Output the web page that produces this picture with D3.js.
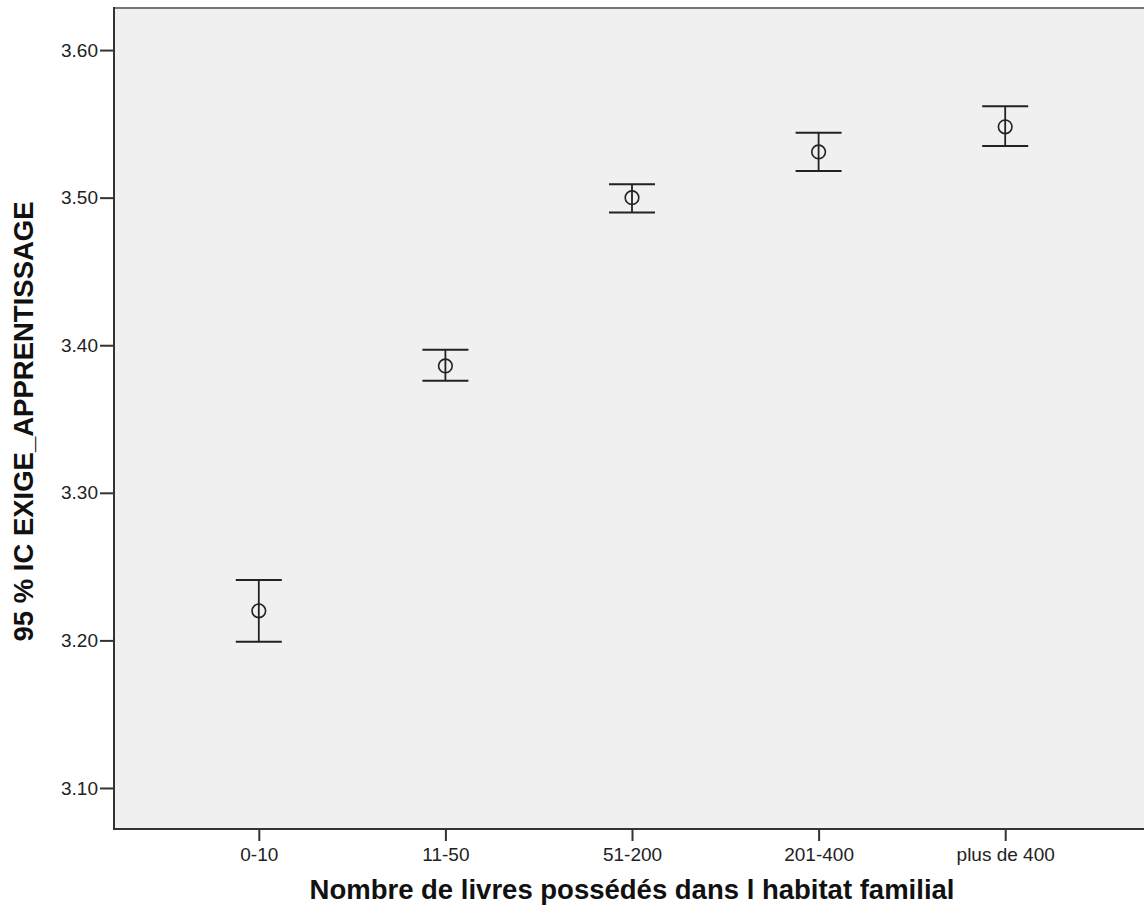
<!DOCTYPE html>
<html>
<head>
<meta charset="utf-8">
<script src="https://cdn.jsdelivr.net/npm/d3@7/dist/d3.min.js"></script>
<style>
  html, body { margin: 0; padding: 0; background: #fff; }
  svg { display: block; }
  text { font-family: "Liberation Sans", Arial, sans-serif; fill: #111; }
</style>
</head>
<body>
<svg id="chart" width="1144" height="915"></svg>
<script>
// Book-count groups and the 95% confidence interval of EXIGE_APPRENTISSAGE
const categories = ["0-10", "11-50", "51-200", "201-400", "plus de 400"];
const means      = [3.220, 3.386, 3.500, 3.531, 3.548];
const lowerCI    = [3.199, 3.376, 3.490, 3.518, 3.535];
const upperCI    = [3.241, 3.397, 3.509, 3.544, 3.562];
const yTicks     = [3.10, 3.20, 3.30, 3.40, 3.50, 3.60];

const yTitle = "95 % IC EXIGE_APPRENTISSAGE";
const xTitle = "Nombre de livres possédés dans l habitat familial";

const svg = d3.select("#chart");
const plot = { left: 114, top: 8, right: 1150, bottom: 829 };

const x = d3.scalePoint()
  .domain(categories)
  .range([plot.left, plot.right])
  .padding(0.776);

const y = d3.scaleLinear()
  .domain([3.0722, 3.6285])
  .range([plot.bottom, plot.top]);

// plot background
svg.append("rect")
  .attr("x", plot.left)
  .attr("y", plot.top)
  .attr("width", plot.right - plot.left)
  .attr("height", plot.bottom - plot.top)
  .attr("fill", "#f0f0f0");

// frame: top edge
svg.append("line")
  .attr("x1", plot.left).attr("x2", plot.right)
  .attr("y1", plot.top).attr("y2", plot.top)
  .attr("stroke", "#777").attr("stroke-width", 2);

// y axis
const yAxis = svg.append("g")
  .attr("transform", `translate(${plot.left},0)`)
  .call(d3.axisLeft(y).tickValues(yTicks).tickFormat(d3.format(".2f")).tickSize(14).tickPadding(2));
yAxis.select(".domain").remove();
yAxis.append("line")
  .attr("x1", 0).attr("x2", 0)
  .attr("y1", plot.top - 1).attr("y2", plot.bottom + 1)
  .attr("stroke", "#333").attr("stroke-width", 2);

// x axis
const xAxis = svg.append("g")
  .attr("transform", `translate(0,${plot.bottom})`)
  .call(d3.axisBottom(x).tickSize(12).tickPadding(7));
xAxis.select(".domain").remove();
xAxis.append("line")
  .attr("x1", plot.left - 1).attr("x2", plot.right)
  .attr("y1", 0).attr("y2", 0)
  .attr("stroke", "#333").attr("stroke-width", 2);

svg.selectAll(".tick line").attr("stroke", "#333").attr("stroke-width", 2);
svg.selectAll(".tick text")
  .style("font-family", "'Liberation Sans', Arial, sans-serif")
  .style("font-size", "19px")
  .style("fill", "#222");

// error bars
const capHalf = 23;
const bars = svg.append("g").selectAll("g")
  .data(categories.map((c, i) => ({ c, m: means[i], lo: lowerCI[i], hi: upperCI[i] })))
  .join("g");

bars.append("line")
  .attr("x1", d => x(d.c)).attr("x2", d => x(d.c))
  .attr("y1", d => y(d.hi)).attr("y2", d => y(d.lo))
  .attr("stroke", "#222").attr("stroke-width", 1.8);
bars.append("line")
  .attr("x1", d => x(d.c) - capHalf).attr("x2", d => x(d.c) + capHalf)
  .attr("y1", d => y(d.hi)).attr("y2", d => y(d.hi))
  .attr("stroke", "#222").attr("stroke-width", 2);
bars.append("line")
  .attr("x1", d => x(d.c) - capHalf).attr("x2", d => x(d.c) + capHalf)
  .attr("y1", d => y(d.lo)).attr("y2", d => y(d.lo))
  .attr("stroke", "#222").attr("stroke-width", 2);
bars.append("circle")
  .attr("cx", d => x(d.c)).attr("cy", d => y(d.m))
  .attr("r", 6.8)
  .attr("fill", "none")
  .attr("stroke", "#222").attr("stroke-width", 1.6);

// axis titles
svg.append("text")
  .attr("transform", `translate(33,${(plot.top + plot.bottom) / 2 + 3}) rotate(-90)`)
  .attr("text-anchor", "middle")
  .style("font-size", "27.5px")
  .style("font-weight", "bold")
  .text(yTitle);

svg.append("text")
  .attr("x", 632)
  .attr("y", 899)
  .attr("text-anchor", "middle")
  .style("font-size", "27.5px")
  .style("font-weight", "bold")
  .text(xTitle);
</script>
</body>
</html>
